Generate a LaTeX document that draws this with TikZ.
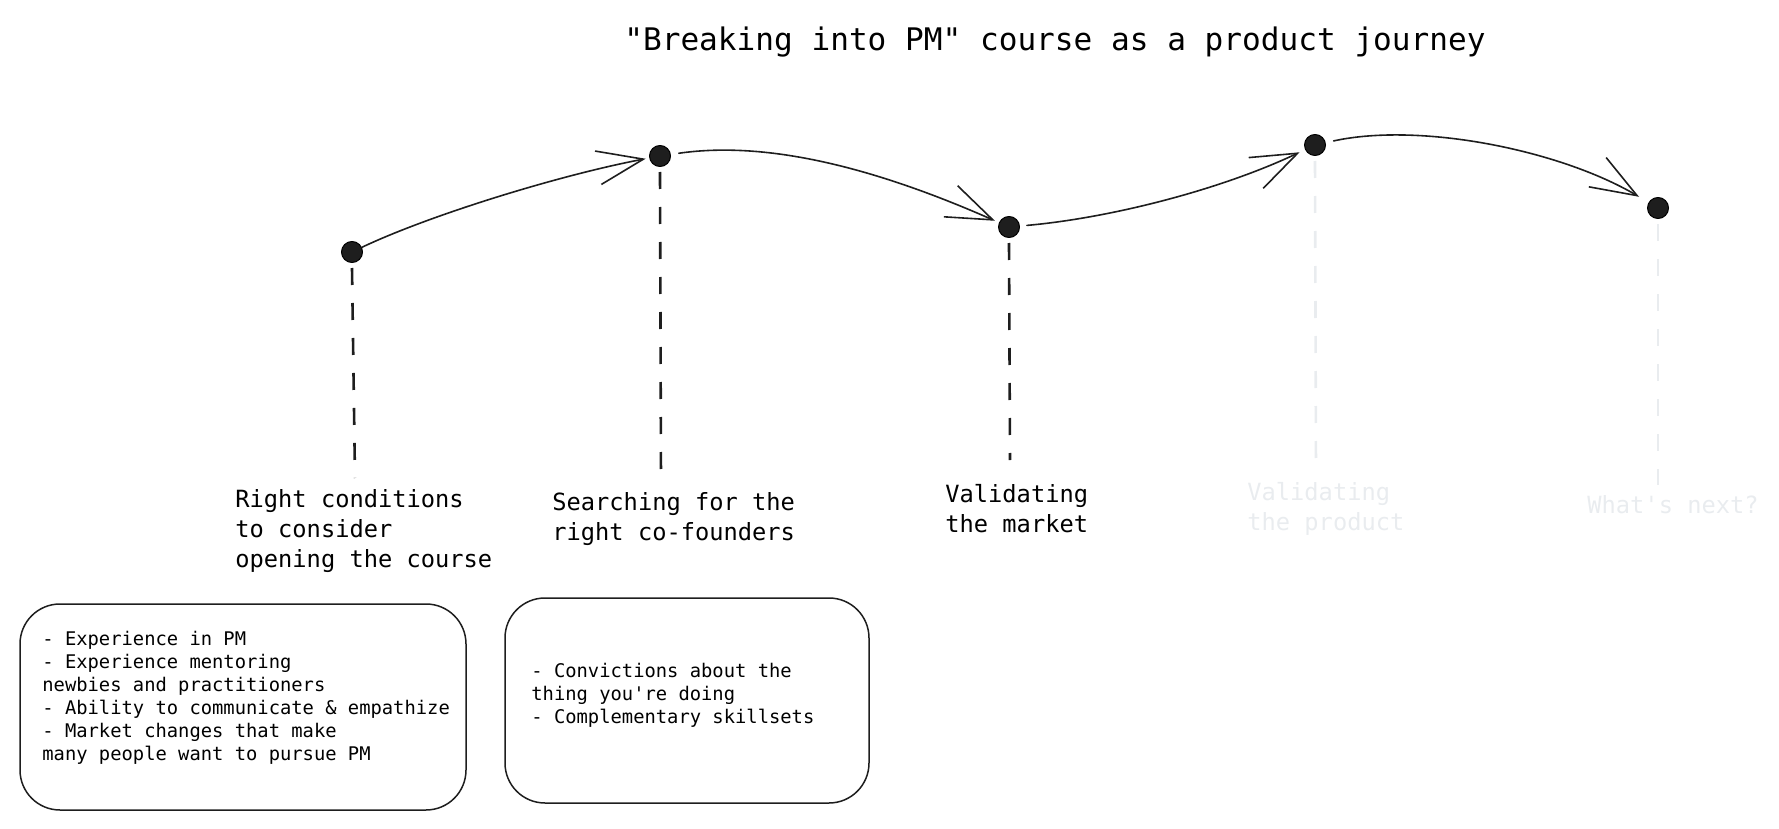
\documentclass[tikz,border=0pt]{standalone}
\usepackage{fontspec}
\setmonofont{DejaVu Sans Mono}
\usetikzlibrary{arrows.meta}
\definecolor{ink}{HTML}{1E1E1E}
\definecolor{faint}{HTML}{E9ECEF}
\begin{document}
\begin{tikzpicture}[x=0.5pt, y=-0.5pt, line join=round, line cap=round,
    >={Straight Barb[length=23pt,width=17pt]},
    dot/.style={circle, draw=black, fill=ink, line width=0.5pt, minimum size=10.5pt, inner sep=0pt},
    stem/.style={line width=1.3pt, dash pattern=on 8.5pt off 9pt, line cap=butt},
    hop/.style={->, ink, line width=0.8pt},
    lbl/.style={anchor=base west, align=left, inner sep=0pt, font=\ttfamily\fontsize{11.85}{14.85}\selectfont},
    note/.style={anchor=base west, align=left, inner sep=0pt, font=\ttfamily\fontsize{9.4}{11.5}\selectfont},
    card/.style={draw=ink, line width=0.75pt, rounded corners=20pt}]
\useasboundingbox (0,0) rectangle (1779,829);
\node[anchor=base, inner sep=0pt, font=\ttfamily\fontsize{15.55}{19}\selectfont] (title) at (1055,51) {"Breaking into PM" course as a product journey};
\foreach \n/\x/\y in {1/352/252, 2/660/156, 3/1009/227, 4/1315/145, 5/1658/208}
    \node[dot] (p\n) at (\x,\y) {};
\foreach \n/\x/\y/\c in {1/355/478/ink, 2/661/483/ink, 3/1010/460/ink, 4/1316/473/faint, 5/1658/485/faint}{
    \coordinate (e\n) at (\x,\y);
    \draw[stem, \c] ([yshift=-2.5pt]p\n.south) -- (e\n);
}
\draw[hop, shorten >=1.8pt] (p1) .. controls (430,215) and (560,175) .. (p2);
\draw[hop, shorten <=4pt, shorten >=2.2pt] (p2) .. controls (770,140) and (880,170) .. (p3);
\draw[hop, shorten <=3.5pt, shorten >=3pt] (p3) .. controls (1110,218) and (1220,190) .. (p4);
\draw[hop, shorten <=4pt, shorten >=5.5pt] (p4) .. controls (1420,122) and (1560,150) .. (p5);
\node[lbl] (lab1) at (235,567) {Right conditions\\to consider\\opening the course};
\node[lbl] (lab2) at (552,540) {Searching for the\\right co-founders};
\node[lbl] (lab3) at (945,532) {Validating\\the market};
\node[lbl, faint] (lab4) at (1247,530) {Validating\\the product};
\node[lbl, faint] (lab5) at (1587,513) {What's next?};
\draw[card] (20,604) rectangle (466,810);
\draw[card] (505,598) rectangle (869,803);
\node[note] (list1) at (42,760) {- Experience in PM\\- Experience mentoring\\newbies and practitioners\\- Ability to communicate \& empathize\\- Market changes that make\\many people want to pursue PM};
\node[note] (list2) at (531,723) {- Convictions about the\\thing you're doing\\- Complementary skillsets};
\end{tikzpicture}
\end{document}
